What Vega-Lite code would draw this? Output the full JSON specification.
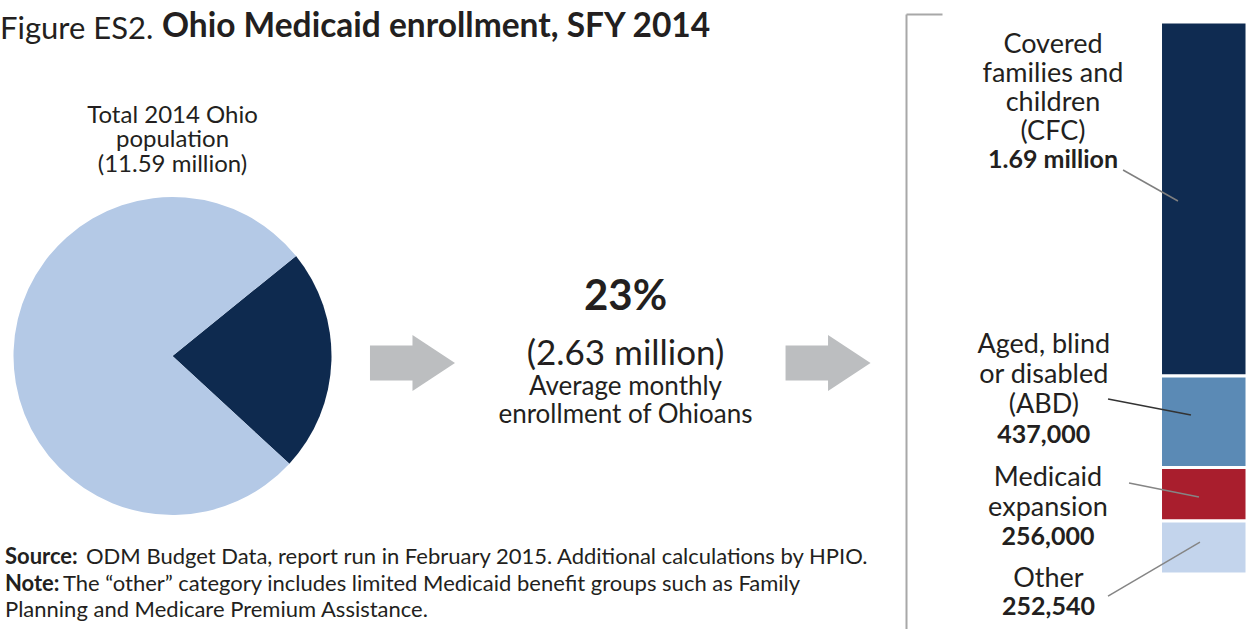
{
  "$schema": "https://vega.github.io/schema/vega-lite/v6.json",
  "padding": {"left": 0, "top": 9, "right": 0, "bottom": 0},
  "background": "white",
  "spacing": 0,
  "bounds": "flush",
  "config": {
    "view": {"stroke": null},
    "font": "Lato",
    "text": {"font": "Lato", "color": "#231f20"},
    "title": {"font": "Lato", "color": "#231f20"}
  },
  "resolve": {"scale": {"color": "independent", "x": "independent", "y": "independent"}},
  "datasets": {
    "population": [
      {"group": "Medicaid enrollees", "people": 2630000},
      {"group": "Other Ohioans", "people": 8960000}
    ],
    "summary": [
      {"share": "23%", "enrolled": "(2.63 million)", "desc": "Average monthly\nenrollment of Ohioans", "population_label": "Total 2014 Ohio\npopulation\n(11.59 million)"}
    ],
    "notes": [
      {"source_label": "Source:", "source": "ODM Budget Data, report run in February 2015. Additional calculations by HPIO.", "note_label": "Note:", "note": "The \u201cother\u201d category includes limited Medicaid benefit groups such as Family", "note_cont": "Planning and Medicare Premium Assistance."}
    ],
    "arrows": [
      {"step": "population to enrollment"},
      {"step": "enrollment to categories"}
    ],
    "enrollment": [
      {"year": "SFY 2014", "short": "CFC", "program": "Covered families and children (CFC)", "name": "Covered\nfamilies and\nchildren\n(CFC)", "enrollees": 1690000, "value_label": "1.69 million"},
      {"year": "SFY 2014", "short": "ABD", "program": "Aged, blind or disabled (ABD)", "name": "Aged, blind\nor disabled\n(ABD)", "enrollees": 437000, "value_label": "437,000"},
      {"year": "SFY 2014", "short": "Expansion", "program": "Medicaid expansion", "name": "Medicaid\nexpansion", "enrollees": 256000, "value_label": "256,000"},
      {"year": "SFY 2014", "short": "Other", "program": "Other", "name": "Other", "enrollees": 252540, "value_label": "252,540"}
    ]
  },
  "hconcat": [
    {
      "width": 345,
      "height": 616,
      "title": {"text": "Figure ES2.", "anchor": "start", "frame": "group", "fontSize": 31, "fontWeight": "normal", "offset": -56, "baseline": "alphabetic"},
      "layer": [
        {
          "data": {"name": "population"},
          "mark": {"type": "arc", "outerRadius": 159, "yOffset": 34},
          "encoding": {
            "theta": {"field": "people", "type": "quantitative", "stack": true, "scale": {"range": [0.89, 7.1732]}},
            "order": {"field": "people", "sort": "ascending"},
            "color": {"field": "group", "type": "nominal", "scale": {"domain": ["Medicaid enrollees", "Other Ohioans"], "range": ["#0e2a4f", "#b4c9e6"]}, "legend": null}
          }
        },
        {
          "data": {"name": "summary"},
          "mark": {"type": "text", "fontSize": 24, "lineBreak": "\n", "lineHeight": 24.5, "dy": -218.5, "baseline": "top", "align": "center"},
          "encoding": {"text": {"field": "population_label"}}
        },
        {
          "data": {"name": "notes"},
          "mark": {"type": "text", "align": "left", "baseline": "middle", "fontSize": 22, "fontWeight": "bold", "dx": -167.5, "dy": 235},
          "encoding": {"text": {"field": "source_label"}}
        },
        {
          "data": {"name": "notes"},
          "mark": {"type": "text", "align": "left", "baseline": "middle", "fontSize": 22, "dx": -86.5, "dy": 235},
          "encoding": {"text": {"field": "source"}}
        },
        {
          "data": {"name": "notes"},
          "mark": {"type": "text", "align": "left", "baseline": "middle", "fontSize": 22, "fontWeight": "bold", "dx": -167.5, "dy": 262},
          "encoding": {"text": {"field": "note_label"}}
        },
        {
          "data": {"name": "notes"},
          "mark": {"type": "text", "align": "left", "baseline": "middle", "fontSize": 22, "dx": -109.5, "dy": 262},
          "encoding": {"text": {"field": "note"}}
        },
        {
          "data": {"name": "notes"},
          "mark": {"type": "text", "align": "left", "baseline": "middle", "fontSize": 22, "dx": -167.5, "dy": 288},
          "encoding": {"text": {"field": "note_cont"}}
        }
      ]
    },
    {
      "width": 561,
      "height": 616,
      "title": {"text": "Ohio Medicaid enrollment, SFY 2014", "anchor": "start", "frame": "group", "fontSize": 33.5, "fontWeight": "bold", "offset": -56, "dx": -183, "baseline": "alphabetic"},
      "layer": [
        {
          "data": {"name": "arrows"},
          "mark": {"type": "point", "shape": "M-1,-0.41L0,-0.41L0,-0.66L1,0L0,0.66L0,0.41L-1,0.41Z", "size": 7225, "filled": true, "color": "#bcbec0", "opacity": 1, "strokeWidth": 0, "yOffset": 41},
          "encoding": {
            "x": {"field": "step", "type": "nominal", "scale": {"type": "point", "domain": ["population to enrollment", "enrollment to categories"], "padding": 0.175, "align": 0.464}, "axis": null}
          }
        },
        {
          "data": {"name": "summary"},
          "mark": {"type": "text", "fontSize": 42, "fontWeight": "bold", "dy": -25, "baseline": "middle", "align": "center"},
          "encoding": {"text": {"field": "share"}}
        },
        {
          "data": {"name": "summary"},
          "mark": {"type": "text", "fontSize": 35, "dy": 32, "baseline": "middle", "align": "center"},
          "encoding": {"text": {"field": "enrolled"}}
        },
        {
          "data": {"name": "summary"},
          "mark": {"type": "text", "fontSize": 26, "lineBreak": "\n", "lineHeight": 28, "dy": 51.5, "baseline": "top", "align": "center"},
          "encoding": {"text": {"field": "desc"}}
        }
      ]
    },
    {
      "width": 341,
      "height": 616,
      "data": {"name": "enrollment"},
      "transform": [
        {"stack": "enrollees", "groupby": ["year"], "sort": [{"field": "enrollees", "order": "ascending"}], "as": ["lo", "hi"]}
      ],
      "encoding": {
        "x": {"field": "year", "type": "nominal", "scale": {"type": "band", "paddingInner": 0, "paddingOuter": 1, "align": 1}, "axis": null}
      },
      "layer": [
        {
          "mark": {"type": "bar", "stroke": "white", "strokeWidth": 3, "width": {"band": 0.761}, "xOffset": 13.6},
          "encoding": {
            "y": {"field": "lo", "type": "quantitative", "scale": {"domain": [-267374, 2673736], "nice": false, "zero": false},
              "axis": {"orient": "left", "title": null, "labels": false, "grid": false, "values": [2673736], "tickSize": -36, "tickWidth": 2, "tickColor": "#a8a8a8", "domainColor": "#a8a8a8", "domainWidth": 2, "offset": 0}},
            "y2": {"field": "hi"},
            "color": {"field": "short", "type": "nominal", "scale": {"domain": ["CFC", "ABD", "Expansion", "Other"], "range": ["#0f2b51", "#5b8ab5", "#a91e2d", "#c3d4ec"]}, "legend": null}
          }
        },
        {
          "transform": [{"filter": "datum.short == 'CFC'"}],
          "mark": {"type": "rule", "color": "#7f7f7f", "strokeWidth": 1.5, "xOffset": -10.3, "x2Offset": -12.2, "yOffset": 148, "y2Offset": 179},
          "encoding": {
            "x": {"field": "year", "type": "nominal", "bandPosition": 0},
            "x2": {"field": "year"},
            "y": {"field": "hi", "type": "quantitative", "scale": {"domain": [-267374, 2673736], "nice": false, "zero": false}},
            "y2": {"field": "hi"}
          }
        },
        {
          "transform": [{"filter": "datum.short == 'ABD'"}],
          "mark": {"type": "rule", "color": "#333333", "strokeWidth": 1.5, "xOffset": -25.3, "x2Offset": 0.8, "yOffset": 23, "y2Offset": 39},
          "encoding": {
            "x": {"field": "year", "type": "nominal", "bandPosition": 0},
            "x2": {"field": "year"},
            "y": {"field": "hi", "type": "quantitative", "scale": {"domain": [-267374, 2673736], "nice": false, "zero": false}},
            "y2": {"field": "hi"}
          }
        },
        {
          "transform": [{"filter": "datum.short == 'Expansion'"}],
          "mark": {"type": "rule", "color": "#858585", "strokeWidth": 1.5, "xOffset": -4.3, "x2Offset": 8.8, "yOffset": 15.5, "y2Offset": 29.5},
          "encoding": {
            "x": {"field": "year", "type": "nominal", "bandPosition": 0},
            "x2": {"field": "year"},
            "y": {"field": "hi", "type": "quantitative", "scale": {"domain": [-267374, 2673736], "nice": false, "zero": false}},
            "y2": {"field": "hi"}
          }
        },
        {
          "transform": [{"filter": "datum.short == 'Other'"}],
          "mark": {"type": "rule", "color": "#858585", "strokeWidth": 1.5, "xOffset": -25.3, "x2Offset": 9.8, "yOffset": 75, "y2Offset": 21},
          "encoding": {
            "x": {"field": "year", "type": "nominal", "bandPosition": 0},
            "x2": {"field": "year"},
            "y": {"field": "hi", "type": "quantitative", "scale": {"domain": [-267374, 2673736], "nice": false, "zero": false}},
            "y2": {"field": "hi"}
          }
        },
        {
          "transform": [{"filter": "datum.short == 'CFC'"}],
          "mark": {"type": "text", "fontSize": 27, "lineBreak": "\n", "lineHeight": 29, "baseline": "top", "align": "center", "dx": -137.2, "dy": 10},
          "encoding": {"y": {"field": "hi", "type": "quantitative", "scale": {"domain": [-267374, 2673736], "nice": false, "zero": false}}, "text": {"field": "name"}}
        },
        {
          "transform": [{"filter": "datum.short == 'CFC'"}],
          "mark": {"type": "text", "fontSize": 25, "fontWeight": "bold", "baseline": "middle", "align": "center", "dx": -137.2, "dy": 138},
          "encoding": {"y": {"field": "hi", "type": "quantitative", "scale": {"domain": [-267374, 2673736], "nice": false, "zero": false}}, "text": {"field": "value_label"}}
        },
        {
          "transform": [{"filter": "datum.short == 'ABD'"}],
          "mark": {"type": "text", "fontSize": 27, "lineBreak": "\n", "lineHeight": 30, "baseline": "top", "align": "center", "dx": -146.4, "dy": -44},
          "encoding": {"y": {"field": "hi", "type": "quantitative", "scale": {"domain": [-267374, 2673736], "nice": false, "zero": false}}, "text": {"field": "name"}}
        },
        {
          "transform": [{"filter": "datum.short == 'ABD'"}],
          "mark": {"type": "text", "fontSize": 25, "fontWeight": "bold", "baseline": "middle", "align": "center", "dx": -146.4, "dy": 59},
          "encoding": {"y": {"field": "hi", "type": "quantitative", "scale": {"domain": [-267374, 2673736], "nice": false, "zero": false}}, "text": {"field": "value_label"}}
        },
        {
          "transform": [{"filter": "datum.short == 'Expansion'"}],
          "mark": {"type": "text", "fontSize": 27, "lineBreak": "\n", "lineHeight": 30, "baseline": "top", "align": "center", "dx": -142.2, "dy": -2.7},
          "encoding": {"y": {"field": "hi", "type": "quantitative", "scale": {"domain": [-267374, 2673736], "nice": false, "zero": false}}, "text": {"field": "name"}}
        },
        {
          "transform": [{"filter": "datum.short == 'Expansion'"}],
          "mark": {"type": "text", "fontSize": 25, "fontWeight": "bold", "baseline": "middle", "align": "center", "dx": -142.2, "dy": 69.5},
          "encoding": {"y": {"field": "hi", "type": "quantitative", "scale": {"domain": [-267374, 2673736], "nice": false, "zero": false}}, "text": {"field": "value_label"}}
        },
        {
          "transform": [{"filter": "datum.short == 'Other'"}],
          "mark": {"type": "text", "fontSize": 27, "baseline": "middle", "align": "center", "dx": -141.7, "dy": 58},
          "encoding": {"y": {"field": "hi", "type": "quantitative", "scale": {"domain": [-267374, 2673736], "nice": false, "zero": false}}, "text": {"field": "name"}}
        },
        {
          "transform": [{"filter": "datum.short == 'Other'"}],
          "mark": {"type": "text", "fontSize": 25, "fontWeight": "bold", "baseline": "middle", "align": "center", "dx": -141.7, "dy": 86},
          "encoding": {"y": {"field": "hi", "type": "quantitative", "scale": {"domain": [-267374, 2673736], "nice": false, "zero": false}}, "text": {"field": "value_label"}}
        }
      ]
    }
  ]
}
